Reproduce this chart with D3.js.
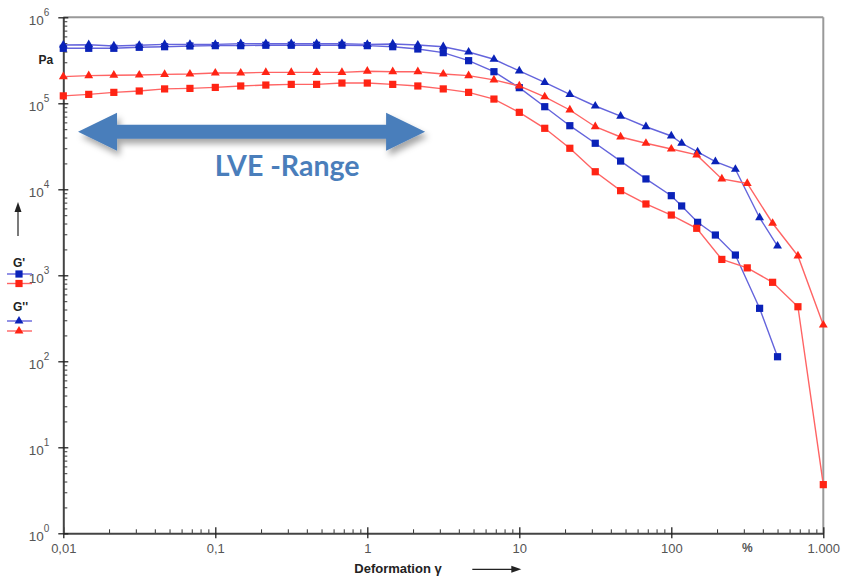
<!DOCTYPE html>
<html>
<head>
<meta charset="utf-8">
<script src="https://cdn.jsdelivr.net/npm/d3@7/dist/d3.min.js"></script>
<style>
  body { margin: 0; background: #fff; }
  svg { display: block; }
</style>
</head>
<body>
<div id="chart"></div>
<script>
// Strain values (%) for each sample
const strainBlue = [0.01, 0.0147, 0.0215, 0.0316, 0.0464, 0.0681, 0.1, 0.147, 0.215, 0.316, 0.464, 0.681,
    1, 1.47, 2.15, 3.16, 4.64, 6.81, 10, 14.7, 21.5, 31.6, 46.4, 68.1, 100, 117, 149, 195, 264, 381, 500];
const strainRed = [0.01, 0.0147, 0.0215, 0.0316, 0.0464, 0.0681, 0.1, 0.147, 0.215, 0.316, 0.464, 0.681,
    1, 1.47, 2.15, 3.16, 4.64, 6.81, 10, 14.7, 21.5, 31.6, 46.4, 68.1, 100, 147, 215, 316, 464, 681, 1000];

// Storage modulus G' (Pa)
const gStorageBlue = [436000, 436000, 436000, 448000, 455000, 464000, 468000, 468000, 473000, 473000, 473000, 473000,
    468000, 455000, 428000, 388000, 313000, 233000, 152000, 91300, 54900, 34300, 21300, 13200, 8430, 6400, 4130, 2940, 1720, 413, 113];
const gStorageRed = [122000, 127000, 134000, 139000, 147000, 149000, 153000, 159000, 163000, 166000, 166000, 172000,
    172000, 166000, 159000, 147000, 134000, 112000, 78500, 51200, 30000, 16000, 9640, 6750, 5020, 3520, 1530, 1220, 829, 431, 3.68];

// Loss modulus G'' (Pa)
const gLossBlue = [476000, 480000, 464000, 473000, 485000, 485000, 485000, 493000, 493000, 493000, 493000, 493000,
    485000, 490000, 476000, 455000, 395000, 325000, 238000, 175000, 127000, 93000, 71000, 53400, 41700, 34300, 27200, 21000, 17100, 4670, 2190];
const gLossRed = [204000, 210000, 212000, 213000, 217000, 219000, 225000, 225000, 229000, 229000, 229000, 229000,
    236000, 233000, 233000, 219000, 210000, 187000, 159000, 119000, 83600, 53400, 40600, 34300, 29400, 25100, 13200, 11700, 4030, 1680, 264];

// Axis ticks
const xMajorTicks = [0.01, 0.1, 1, 10, 100, 1000];
const xTickLabels = ["0,01", "0,1", "1", "10", "100", "1.000"];
const yMajorTicks = [1, 10, 100, 1000, 10000, 100000, 1000000];
const yTickExponents = ["0", "1", "2", "3", "4", "5", "6"];

// LVE range annotation (data space)
const lveRange = [0.0125, 2.4];
const lveLevel = 46800;
const lveLabelAt = 0.297;

const series = [
    { x: strainBlue, y: gStorageBlue, line: "#6464dc", fill: "#0a22b8", shape: "square" },
    { x: strainRed, y: gStorageRed, line: "#ff6464", fill: "#ff2414", shape: "square" },
    { x: strainBlue, y: gLossBlue, line: "#6464dc", fill: "#0a22b8", shape: "triangle" },
    { x: strainRed, y: gLossRed, line: "#ff6464", fill: "#ff2414", shape: "triangle" }
];

const W = 842, H = 577;
const margin = { top: 17.3, right: 18.7, bottom: 43.7, left: 63.3 };
const width = W - margin.left - margin.right;
const height = H - margin.top - margin.bottom;

const svg = d3.select("#chart").append("svg")
    .attr("width", W)
    .attr("height", H);

svg.append("rect").attr("width", W).attr("height", H).attr("fill", "#fff");

const defs = svg.append("defs");
const shadow = defs.append("filter").attr("id", "shadow")
    .attr("x", "-20%").attr("y", "-50%").attr("width", "140%").attr("height", "220%");
shadow.append("feDropShadow")
    .attr("dx", 3).attr("dy", 5).attr("stdDeviation", 3)
    .attr("flood-color", "#000").attr("flood-opacity", 0.35);

const g = svg.append("g").attr("transform", `translate(${margin.left},${margin.top})`);

const x = d3.scaleLog().domain([0.01, 1000]).range([0, width]);
const y = d3.scaleLog().domain([1, 1e6]).range([height, 0]);

const axisFont = "'Liberation Sans', Arial, sans-serif";
const axisColor = "#555";

// Frame (top and right)
g.append("line").attr("x1", 0).attr("x2", width).attr("y1", 0).attr("y2", 0)
    .attr("stroke", "#999").attr("stroke-width", 2);
g.append("line").attr("x1", width).attr("x2", width).attr("y1", 0).attr("y2", height)
    .attr("stroke", "#999").attr("stroke-width", 2);

// Minor ticks
const xMinor = x.ticks().filter(v => !xMajorTicks.includes(v));
const yMinor = y.ticks().filter(v => !yMajorTicks.includes(v));

g.append("g")
    .attr("transform", `translate(0,${height})`)
    .call(d3.axisBottom(x).tickValues(xMinor).tickSize(-4).tickSizeOuter(0).tickFormat(""))
    .call(a => a.select(".domain").remove())
    .selectAll(".tick line").attr("stroke", "#333");

g.append("g")
    .call(d3.axisLeft(y).tickValues(yMinor).tickSize(-4).tickSizeOuter(0).tickFormat(""))
    .call(a => a.select(".domain").remove())
    .selectAll(".tick line").attr("stroke", "#333");

// Major x axis
const xAxis = g.append("g")
    .attr("transform", `translate(0,${height})`)
    .call(d3.axisBottom(x).tickValues(xMajorTicks).tickSize(5).tickSizeOuter(0)
        .tickFormat((d, i) => xTickLabels[i]));
xAxis.select(".domain").attr("stroke", "#444").attr("stroke-width", 2);
xAxis.selectAll(".tick line").attr("y1", -6).attr("y2", 5).attr("stroke", "#222").attr("stroke-width", 1.3);
xAxis.selectAll(".tick text")
    .attr("y", 10).attr("dy", "0.71em")
    .attr("fill", axisColor).style("font-family", axisFont).style("font-size", "13px");

// Major y axis
const yAxis = g.append("g")
    .call(d3.axisLeft(y).tickValues(yMajorTicks).tickSize(5).tickSizeOuter(0).tickFormat(""));
yAxis.select(".domain").attr("stroke", "#444").attr("stroke-width", 2);
yAxis.selectAll(".tick line").attr("x1", -5).attr("x2", 5).attr("stroke", "#222").attr("stroke-width", 1.3);
yAxis.selectAll(".tick").each(function(d, i) {
    const t = d3.select(this).append("text")
        .attr("x", -14).attr("y", 7)
        .attr("text-anchor", "end")
        .attr("fill", axisColor)
        .style("font-family", axisFont).style("font-size", "13.5px");
    t.append("tspan").text("10");
    t.append("tspan").attr("dy", -9).style("font-size", "10px").text(yTickExponents[i]);
});

// Unit labels
g.append("text")
    .attr("x", -10).attr("y", 47)
    .attr("text-anchor", "end")
    .style("font-family", axisFont).style("font-size", "12px").style("font-weight", "bold")
    .attr("fill", "#222")
    .text("Pa");

g.append("text")
    .attr("x", x(316)).attr("y", height + 10).attr("dy", "0.71em")
    .attr("text-anchor", "middle")
    .style("font-family", axisFont).style("font-size", "12px").style("font-weight", "bold")
    .attr("fill", axisColor)
    .text("%");

// Series lines and markers
const line = d3.line()
    .x(d => x(d[0]))
    .y(d => y(d[1]));

series.forEach(s => {
    const pts = s.x.map((v, i) => [v, s.y[i]]);
    g.append("path")
        .datum(pts)
        .attr("fill", "none")
        .attr("stroke", s.line)
        .attr("stroke-width", 1.4)
        .attr("d", line);
    drawMarkers(g, pts.map(p => [x(p[0]), y(p[1])]), s);
});

function drawMarkers(parent, pts, s) {
    if (s.shape === "square") {
        parent.append("g").selectAll("rect")
            .data(pts).enter().append("rect")
            .attr("x", d => d[0] - 3.6).attr("y", d => d[1] - 3.6)
            .attr("width", 7.2).attr("height", 7.2)
            .attr("fill", s.fill);
    } else {
        const tri = d3.symbol().type(d3.symbolTriangle).size(34);
        parent.append("g").selectAll("path")
            .data(pts).enter().append("path")
            .attr("transform", d => `translate(${d[0]},${d[1]})`)
            .attr("d", tri)
            .attr("fill", s.fill);
    }
}

// LVE range double arrow
const ax1 = x(lveRange[0]), ax2 = x(lveRange[1]), ay = y(lveLevel);
const headLen = 39, headHalf = 19, shaftHalf = 7;
const arrowPath = d3.path();
arrowPath.moveTo(ax1, ay);
arrowPath.lineTo(ax1 + headLen, ay - headHalf);
arrowPath.lineTo(ax1 + headLen, ay - shaftHalf);
arrowPath.lineTo(ax2 - headLen, ay - shaftHalf);
arrowPath.lineTo(ax2 - headLen, ay - headHalf);
arrowPath.lineTo(ax2, ay);
arrowPath.lineTo(ax2 - headLen, ay + headHalf);
arrowPath.lineTo(ax2 - headLen, ay + shaftHalf);
arrowPath.lineTo(ax1 + headLen, ay + shaftHalf);
arrowPath.lineTo(ax1 + headLen, ay + headHalf);
arrowPath.closePath();

g.append("path")
    .attr("d", arrowPath.toString())
    .attr("fill", "#4a7ebb")
    .attr("filter", "url(#shadow)");

g.append("text")
    .attr("x", x(lveLabelAt)).attr("y", ay + 44)
    .attr("text-anchor", "middle")
    .style("font-family", "Lato, 'Open Sans', sans-serif")
    .style("font-size", "28.5px").style("font-weight", "bold")
    .attr("fill", "#4a7ebb")
    .text("LVE -Range");

// X axis title with arrow
const titleY = height + 40;
g.append("text")
    .attr("x", 291).attr("y", titleY)
    .style("font-family", axisFont).style("font-size", "13px").style("font-weight", "bold")
    .attr("fill", "#222")
    .text("Deformation γ");
g.append("line")
    .attr("x1", 409).attr("x2", 450).attr("y1", titleY - 4).attr("y2", titleY - 4)
    .attr("stroke", "#222").attr("stroke-width", 1.2);
g.append("path")
    .attr("d", `M${458},${titleY - 4}L${448},${titleY - 7.5}L${448},${titleY - 0.5}Z`)
    .attr("fill", "#222");

// Y axis arrow and legend (left margin)
svg.append("line")
    .attr("x1", 18).attr("x2", 18).attr("y1", 236).attr("y2", 210)
    .attr("stroke", "#222").attr("stroke-width", 1.2);
svg.append("path")
    .attr("d", "M18,202L14.5,212L21.5,212Z")
    .attr("fill", "#222");

const legendItems = [
    { label: "G'", y: 262, entries: [series[0], series[1]], rows: [274, 283.5] },
    { label: "G''", y: 306.5, entries: [series[2], series[3]], rows: [321, 331] }
];

legendItems.forEach(item => {
    svg.append("text")
        .attr("x", 13).attr("y", item.y + 4.5)
        .style("font-family", axisFont).style("font-size", "12px").style("font-weight", "bold")
        .attr("fill", "#222")
        .text(item.label);
    item.entries.forEach((s, k) => {
        const ly = item.rows[k];
        svg.append("line")
            .attr("x1", 7).attr("x2", 32).attr("y1", ly).attr("y2", ly)
            .attr("stroke", s.line).attr("stroke-width", 1.4);
        drawMarkers(svg, [[19, ly]], s);
    });
});
</script>
</body>
</html>
